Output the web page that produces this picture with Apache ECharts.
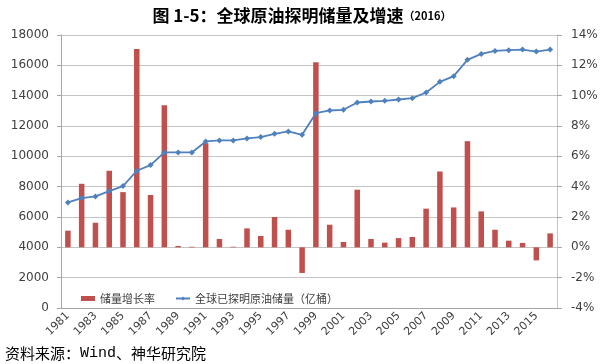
<!DOCTYPE html>
<html><head><meta charset="utf-8">
<script src="https://cdn.jsdelivr.net/npm/echarts@6/dist/echarts.min.js"></script>
<style>html,body{margin:0;padding:0;background:#fff}#c{width:604px;height:364px}</style>
</head><body><div id="c"></div>
<script>
const years = ['1981','1982','1983','1984','1985','1986','1987','1988','1989','1990','1991','1992','1993','1994','1995','1996','1997','1998','1999','2000','2001','2002','2003','2004','2005','2006','2007','2008','2009','2010','2011','2012','2013','2014','2015','2016'];
const growthRate = [1.10,4.19,1.62,5.05,3.64,13.08,3.45,9.37,0.09,0.04,6.87,0.55,0.04,1.25,0.75,2.00,1.16,-1.69,12.21,1.49,0.35,3.80,0.55,0.31,0.61,0.68,2.55,5.00,2.63,7.00,2.37,1.16,0.44,0.29,-0.86,0.92];
const reserves = [6964,7249,7359,7710,8040,9049,9423,10257,10257,10257,10981,11047,11047,11179,11267,11486,11640,11420,12847,13023,13067,13550,13616,13660,13748,13835,14209,14911,15284,16360,16755,16953,16997,17041,16909,17041];
const leftTicks = {min:0, max:18000, interval:2000};
const rightTicks = {min:-4, max:14, interval:2};
const seriesNames = ['储量增长率','全球已探明原油储量（亿桶）'];

const chart = echarts.init(document.getElementById('c'), null, {renderer:'canvas'});
const axisFont = {fontFamily:'DejaVu Sans', fontSize:12, color:'#404040'};
chart.setOption({
  animation:false,
  title:{
    text:'{a|图 1-5：全球原油探明储量及增速}{b|（2016）}',
    left:'center', top:2,
    textStyle:{rich:{
      a:{fontFamily:'Noto Sans CJK SC', fontWeight:'bold', fontSize:17, color:'#000'},
      b:{fontFamily:'Noto Sans CJK SC', fontWeight:'bold', fontSize:11, color:'#000'}
    }}
  },
  grid:{left:61, right:47, top:35, bottom:56},
  legend:{
    left:76, top:288, itemGap:20, itemWidth:14, itemHeight:5,
    textStyle:{fontFamily:'Noto Sans CJK SC', fontSize:11, color:'#404040'},
    data:[{name:seriesNames[0], icon:'rect'}, {name:seriesNames[1]}]
  },
  xAxis:{
    type:'category', data:years, boundaryGap:true,
    axisLine:{onZero:false, lineStyle:{color:'#a6a6a6'}},
    axisTick:{interval:1, length:4, lineStyle:{color:'#a6a6a6'}},
    axisLabel:{interval:1, rotate:45, margin:6, fontFamily:'DejaVu Sans', fontSize:11, color:'#404040'}
  },
  yAxis:[
    {type:'value', min:leftTicks.min, max:leftTicks.max, interval:leftTicks.interval,
     axisLine:{show:true, lineStyle:{color:'#a6a6a6'}},
     axisTick:{show:true, length:4, lineStyle:{color:'#a6a6a6'}},
     axisLabel:Object.assign({margin:12, formatter:function(v){return String(v);}}, axisFont),
     splitLine:{lineStyle:{color:'#c4c4c4'}}},
    {type:'value', min:rightTicks.min, max:rightTicks.max, interval:rightTicks.interval,
     position:'right',
     axisLine:{show:true, lineStyle:{color:'#c4c4c4'}},
     axisTick:{show:true, length:5, lineStyle:{color:'#a6a6a6'}},
     axisLabel:Object.assign({margin:14, formatter:'{value}%'}, axisFont),
     splitLine:{show:false}}
  ],
  series:[
    {name:seriesNames[0], type:'bar', yAxisIndex:1, data:growthRate, barWidth:'40%',
     itemStyle:{color:'#c0504d'}},
    {name:seriesNames[1], type:'line', yAxisIndex:0, data:reserves,
     symbol:'diamond', symbolSize:6, lineStyle:{color:'#4f81bd', width:1.8},
     itemStyle:{color:'#4f81bd'}}
  ],
  graphic:[{type:'text', left:5, top:346, style:{
    text:'{c|资料来源：}{m|Wind}{c|、神华研究院}',
    rich:{
      c:{fontFamily:'Noto Sans CJK SC', fontSize:15, fill:'#000'},
      m:{fontFamily:'Liberation Mono', fontSize:15, fill:'#000'}
    }}}]
});
</script></body></html>
